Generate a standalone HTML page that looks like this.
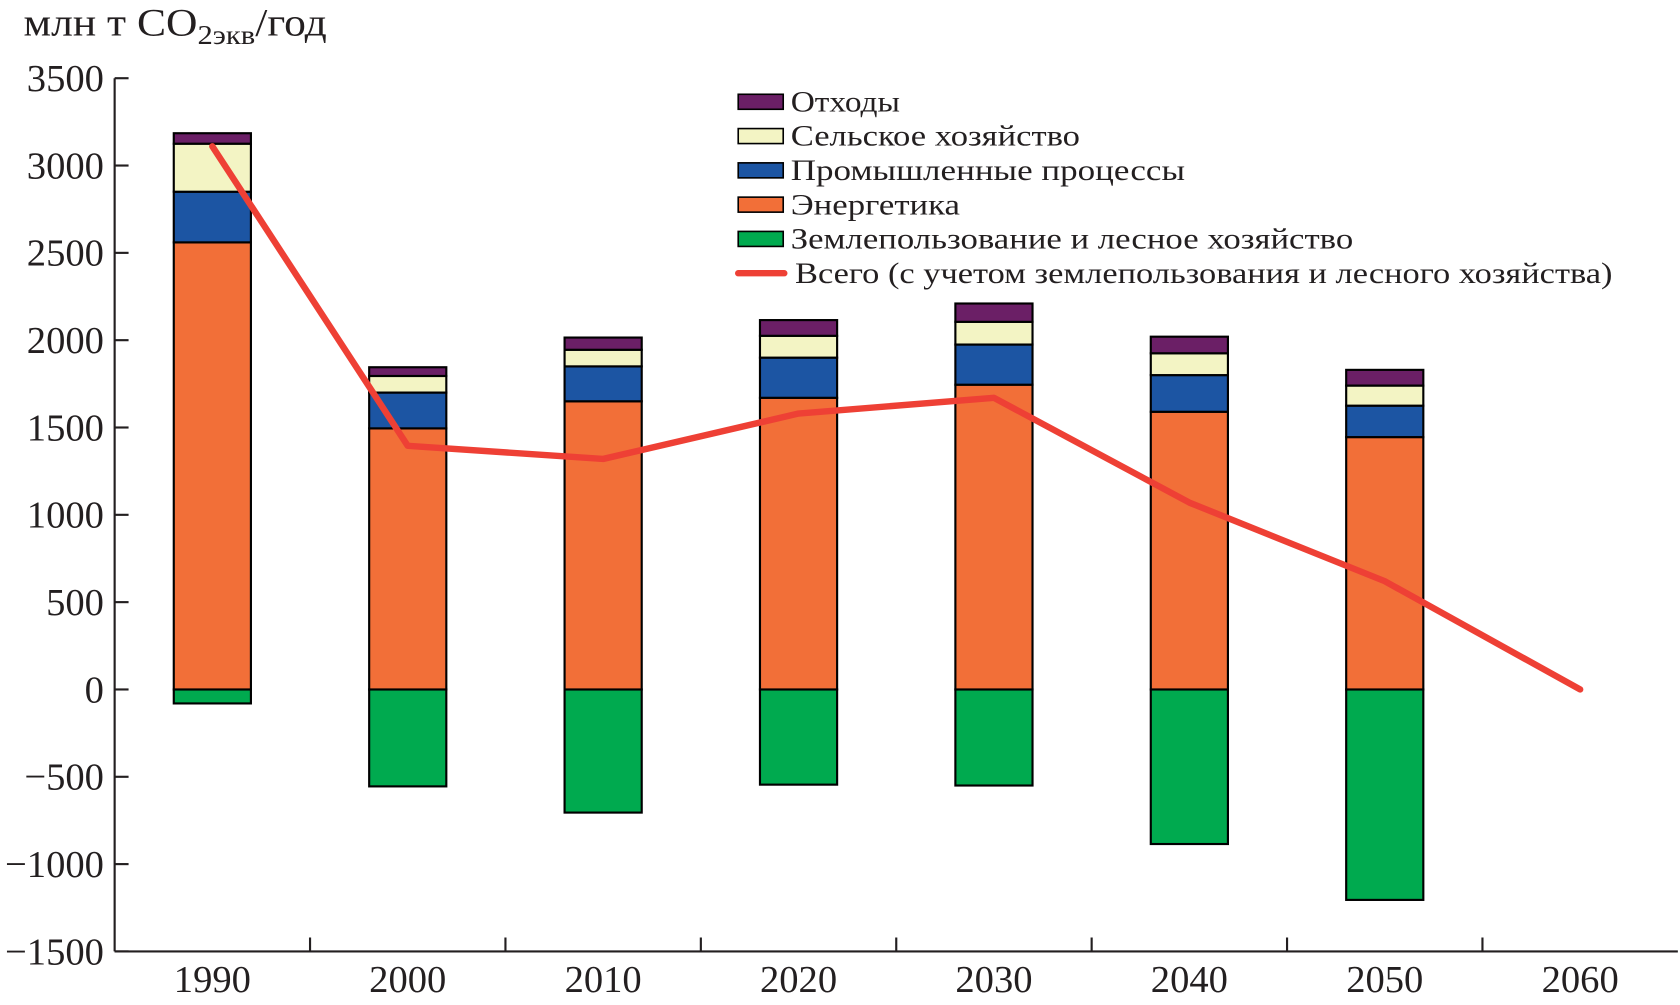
<!DOCTYPE html>
<html><head><meta charset="utf-8"><style>
html,body{margin:0;padding:0;background:#fff;}
svg{display:block;font-family:"Liberation Serif",serif;}
</style></head><body>
<svg id="chart" width="1680" height="1005" viewBox="0 0 1568 938" xmlns="http://www.w3.org/2000/svg">
<text x="22" y="33" font-size="37" fill="#231f20" textLength="283" lengthAdjust="spacingAndGlyphs">млн т CO<tspan font-size="26" dy="8">2экв</tspan><tspan dy="-8">/год</tspan></text>
<g id="axes"></g><g id="bars"></g><g id="line"></g>
<g font-size="28" fill="#231f20" id="legend"></g>
</svg>
<script>
const years = ['1990','2000','2010','2020','2030','2040','2050','2060'];
const lulucf = [-80,-555,-705,-545,-550,-885,-1205,null];
const energy = [2560,1495,1650,1670,1745,1590,1445,null];
const industry = [290,205,200,230,230,210,180,null];
const agriculture = [275,95,95,125,130,125,115,null];
const waste = [60,50,70,90,105,95,90,null];
const total = [3110,1395,1320,1580,1670,1070,620,0];
const yTicks = [3500,3000,2500,2000,1500,1000,500,0,-500,-1000,-1500];
const yTickLabels = ['3500','3000','2500','2000','1500','1000','500','0','−500','−1000','−1500'];

const NS='http://www.w3.org/2000/svg';
const X0=107, X1=1566, Y3500=73, PX=0.163;
const y = v => Y3500 + (3500 - v)*PX;
const step = (X1-X0)/8;
const x = i => X0 + step*(i+0.5);
function mk(tag, attrs, parent){const e=document.createElementNS(NS,tag);for(const k in attrs)e.setAttribute(k,attrs[k]);parent.appendChild(e);return e;}
const axes=document.getElementById('axes'), bars=document.getElementById('bars'), lineG=document.getElementById('line'), legend=document.getElementById('legend');

let el=mk('line',{x1:X0,y1:y(3500),x2:X0,y2:y(-1500),stroke:'#231f20','stroke-width':2},axes);


el=mk('line',{x1:X0,y1:y(-1500),x2:X1,y2:y(-1500),stroke:'#231f20','stroke-width':2},axes);


yTicks.forEach((v,i)=>{
  el=mk('line',{x1:X0,y1:y(v),x2:X0+13,y2:y(v),stroke:'#231f20','stroke-width':2},axes);
  
  
  el=mk('text',{x:97,y:y(v)+12,'text-anchor':'end','font-size':36,fill:'#231f20'},axes);
  el.textContent=yTickLabels[i];
  
  
});
years.forEach((yr,i)=>{
  if(i>0){
    el=mk('line',{x1:X0+step*i,y1:y(-1500),x2:X0+step*i,y2:y(-1500)-13,stroke:'#231f20','stroke-width':2},axes);
    
    
  }
  el=mk('text',{x:x(i),y:y(-1500)+38,'text-anchor':'middle','font-size':36,fill:'#231f20'},axes);
  el.textContent=yr;
  
  
});
const BW=72;
const series=[[energy,'#f26f38','energy'],[industry,'#1c55a3','industry'],[agriculture,'#f3f4c4','agriculture'],[waste,'#6b1f66','waste']];
years.forEach((yr,i)=>{
  if(lulucf[i]===null) return;
  el=mk('rect',{x:x(i)-BW/2,y:y(0),width:BW,height:y(lulucf[i])-y(0),fill:'#00aa4f',stroke:'#000','stroke-width':2},bars);
  
  
  let base=0;
  series.forEach(([arr,col,nm])=>{
    const top=base+arr[i];
    el=mk('rect',{x:x(i)-BW/2,y:y(top),width:BW,height:y(base)-y(top),fill:col,stroke:'#000','stroke-width':2},bars);
    
    
    base=top;
  });
});
el=mk('polyline',{points:total.map((v,i)=>x(i)+','+y(v)).join(' '),fill:'none',stroke:'#ee4035','stroke-width':6,'stroke-linecap':'round','stroke-linejoin':'round'},lineG);



const legItems=[['#6b1f66','Отходы',102],['#f3f4c4','Сельское хозяйство',270],['#1c55a3','Промышленные процессы',368],['#f26f38','Энергетика',158],['#00aa4f','Землепользование и лесное хозяйство',525]];
legItems.forEach(([c,t,w],i)=>{
  const cy=95+i*32;
  el=mk('rect',{x:689,y:cy-7,width:42,height:14,fill:c,stroke:'#000','stroke-width':1.5},legend);
  
  
  el=mk('text',{x:738,y:cy+9,textLength:w,lengthAdjust:'spacingAndGlyphs'},legend);
  el.textContent=t;
  
  
});
el=mk('line',{x1:689,y1:255,x2:732,y2:255,stroke:'#ee4035','stroke-width':6,'stroke-linecap':'round'},legend);


el=mk('text',{x:742,y:264,textLength:763,lengthAdjust:'spacingAndGlyphs'},legend);
el.textContent='Всего (с учетом землепользования и лесного хозяйства)';


</script>
</body></html>
